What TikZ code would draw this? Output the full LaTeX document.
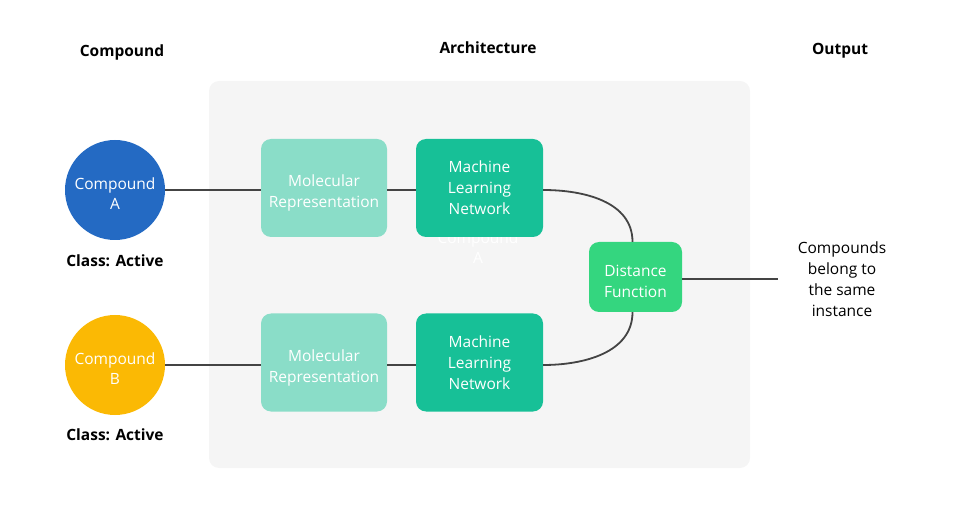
\documentclass[tikz,border=0pt]{standalone}
\usepackage{fontspec}
\setmainfont{Open Sans}
\usepackage{xcolor}
\usetikzlibrary{positioning}

\definecolor{panelgray}{HTML}{F5F5F5}
\definecolor{cpdblue}{HTML}{246AC3}
\definecolor{cpdyellow}{HTML}{FBB904}
\definecolor{molteal}{HTML}{8ADDC8}
\definecolor{mlteal}{HTML}{17C097}
\definecolor{distgreen}{HTML}{34D67F}
\definecolor{linkgray}{HTML}{444444}

\begin{document}
\begin{tikzpicture}[
    x=1pt, y=-1pt,
    font=\fontsize{15.5}{21}\selectfont,
    compound/.style={circle, minimum size=100pt, inner sep=0pt, text=white, align=center, text height=39.5pt, font=\fontsize{15.5}{20}\selectfont},
    molbox/.style={rectangle, rounded corners=10pt, minimum width=126pt, minimum height=98pt, fill=molteal, text=white, align=center, inner sep=0pt, text height=43.5pt},
    mlbox/.style={rectangle, rounded corners=10pt, minimum width=127pt, minimum height=98pt, fill=mlteal, text=white, align=center, inner sep=0pt},
    distbox/.style={rectangle, rounded corners=10pt, minimum width=93pt, minimum height=70pt, fill=distgreen, text=white, align=center, inner sep=0pt, text height=41.5pt},
    heading/.style={font=\fontsize{15.5}{21}\selectfont\bfseries},
    link/.style={draw=linkgray, line width=1.8pt}
]
    \useasboundingbox (0,0) rectangle (974,510);
    % architecture panel
    \fill[panelgray, rounded corners=10pt] (209,81) rectangle (750,468);

    % headings
    \node[heading] (hcompound) at (122,52) {Compound};
    \node[heading] (harch) at (488,48) {Architecture};
    \node[heading] (houtput) at (840,51) {Output};

    % compounds
    \node[compound, fill=cpdblue] (cpdA) at (115,190) {Compound\\A};
    \node[compound, fill=cpdyellow] (cpdB) at (115,365) {Compound\\B};
    \node[heading, below=11pt of cpdA] (classA) {Class: Active};
    \node[heading, below=10pt of cpdB] (classB) {Class: Active};

    % faded label left behind the top network
    \node[text=white, align=center, font=\fontsize{15.5}{20}\selectfont] (ghost) at (478,248) {Compound\\A};

    % top branch
    \node[molbox] (molA) at (324,188) {Molecular\\Representation};
    \node[mlbox] (mlA) at (479.5,188) {Machine\\Learning\\Network};
    % bottom branch
    \node[molbox] (molB) at (324,362.5) {Molecular\\Representation};
    \node[mlbox] (mlB) at (479.5,362.5) {Machine\\Learning\\Network};

    \node[distbox] (dist) at (635.5,277) {Distance\\Function};
    \node[align=center] (result) at (842,279) {Compounds\\belong to\\the same\\instance};
    \coordinate (resend) at (778,279);

    \draw[link] (cpdA.east) -- (molA.west |- cpdA.east);
    \draw[link] (cpdB.east) -- (molB.west |- cpdB.east);
    \draw[link] (molA.east |- cpdA.east) -- (mlA.west |- cpdA.east);
    \draw[link] (molB.east |- cpdB.east) -- (mlB.west |- cpdB.east);
    \draw[link] (mlA.east |- cpdA.east) to[out=0, in=90] ([xshift=-3pt]dist.north);
    \draw[link] (mlB.east |- cpdB.east) to[out=0, in=-90] ([xshift=-3pt]dist.south);
    \draw[link] (dist.east |- resend) -- (resend);
\end{tikzpicture}
\end{document}
